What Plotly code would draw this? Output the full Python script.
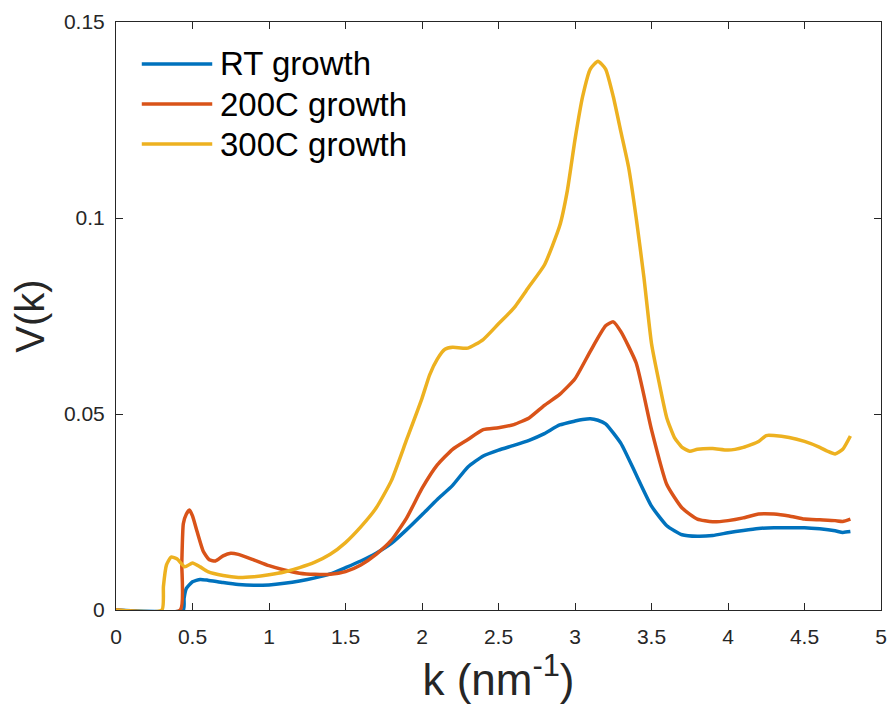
import plotly.graph_objects as go

# RT growth
k_rt = [0, 0.44, 0.445, 0.46, 0.5, 0.55, 0.6, 0.7, 0.8, 0.9, 1.0, 1.1, 1.2, 1.3, 1.4, 1.5, 1.6, 1.7, 1.8, 1.9,
        2.0, 2.1, 2.2, 2.3, 2.4, 2.5, 2.6, 2.7, 2.8, 2.9, 3.0, 3.05, 3.1, 3.15, 3.2, 3.3, 3.4, 3.5, 3.6, 3.7,
        3.8, 3.9, 4.0, 4.1, 4.2, 4.3, 4.4, 4.5, 4.6, 4.7, 4.75, 4.8]
v_rt = [0, 0, 0.003, 0.0055, 0.0072, 0.0078, 0.0076, 0.007, 0.0065, 0.0063, 0.0064, 0.0068, 0.0074, 0.0082,
        0.0092, 0.0108, 0.0125, 0.0145, 0.017, 0.0205, 0.0243, 0.0282, 0.0318, 0.0365, 0.0393, 0.0408, 0.042,
        0.0433, 0.045, 0.0472, 0.0482, 0.0486, 0.0488, 0.0484, 0.0475, 0.0425, 0.0345, 0.0265, 0.0215, 0.0192,
        0.0188, 0.019, 0.0197, 0.0203, 0.0208, 0.021, 0.021, 0.021, 0.0207, 0.0202, 0.0198, 0.02]

# 200C growth
k_200 = [0, 0.42, 0.43, 0.44, 0.46, 0.48, 0.5, 0.53, 0.57, 0.61, 0.65, 0.7, 0.75, 0.8, 0.9, 1.0, 1.1, 1.2, 1.3,
         1.4, 1.5, 1.6, 1.7, 1.8, 1.9, 2.0, 2.1, 2.2, 2.3, 2.4, 2.5, 2.6, 2.7, 2.8, 2.9, 3.0, 3.1, 3.2, 3.25,
         3.3, 3.4, 3.5, 3.6, 3.7, 3.8, 3.9, 4.0, 4.1, 4.2, 4.3, 4.4, 4.5, 4.6, 4.7, 4.75, 4.8]
v_200 = [0, 0, 0.012, 0.022, 0.0245, 0.0255, 0.024, 0.02, 0.015, 0.0128, 0.0125, 0.0138, 0.0145, 0.0142,
         0.0128, 0.0113, 0.0102, 0.0094, 0.0091, 0.0091, 0.0098, 0.0115, 0.0142, 0.0178, 0.0235, 0.031,
         0.037, 0.041, 0.0435, 0.046, 0.0465, 0.0473, 0.049, 0.0522, 0.055, 0.059, 0.066, 0.0725, 0.0735,
         0.071, 0.063, 0.046, 0.032, 0.026, 0.0232, 0.0225, 0.0228, 0.0235, 0.0245, 0.0245, 0.024, 0.0232,
         0.023, 0.0228, 0.0226, 0.0232]

# 300C growth
k_300 = [0, 0.3, 0.31, 0.33, 0.36, 0.4, 0.45, 0.5, 0.55, 0.6, 0.7, 0.8, 0.9, 1.0, 1.1, 1.2, 1.3, 1.4, 1.5, 1.6,
         1.7, 1.8, 1.9, 2.0, 2.05, 2.1, 2.15, 2.2, 2.3, 2.4, 2.5, 2.6, 2.7, 2.8, 2.9, 2.95, 3.0, 3.05, 3.1,
         3.15, 3.2, 3.25, 3.3, 3.35, 3.4, 3.45, 3.5, 3.55, 3.6, 3.65, 3.7, 3.75, 3.8, 3.9, 4.0, 4.1, 4.2,
         4.25, 4.3, 4.4, 4.5, 4.6, 4.65, 4.7, 4.75, 4.8]
v_300 = [0, 0, 0.006, 0.0115, 0.0135, 0.013, 0.011, 0.012, 0.011, 0.0098, 0.0088, 0.0083, 0.0085, 0.009,
         0.0097, 0.0108, 0.0122, 0.0142, 0.0172, 0.0212, 0.026, 0.033, 0.0435, 0.054, 0.06, 0.064, 0.0665,
         0.067, 0.0668, 0.069, 0.073, 0.077, 0.0825, 0.088, 0.098, 0.107, 0.12, 0.131, 0.138, 0.14, 0.138,
         0.131, 0.122, 0.113, 0.1, 0.085, 0.068, 0.058, 0.049, 0.044, 0.0415, 0.0405, 0.041, 0.0412, 0.0408,
         0.0415, 0.043, 0.0445, 0.0445, 0.044, 0.043, 0.0415, 0.0405, 0.0398, 0.041, 0.0444]

names = ["RT growth", "200C growth", "300C growth"]
colors = ["#0072BD", "#D95319", "#EDB120"]
series = [(k_rt, v_rt), (k_200, v_200), (k_300, v_300)]

x_ticks = [0, 0.5, 1, 1.5, 2, 2.5, 3, 3.5, 4, 4.5, 5]
x_ticklabels = ["0", "0.5", "1", "1.5", "2", "2.5", "3", "3.5", "4", "4.5", "5"]
y_ticks = [0, 0.05, 0.1, 0.15]
y_ticklabels = ["0", "0.05", "0.1", "0.15"]

FONT = "Liberation Sans, Arial, Helvetica, sans-serif"

fig = go.Figure()
for (kx, vy), nm, c in zip(series, names, colors):
    fig.add_trace(go.Scatter(x=kx, y=vy, mode="lines", name=nm,
                             line=dict(color=c, width=3.5, shape="spline", smoothing=0.5),
                             showlegend=False))

# legend drawn manually (MATLAB style, long line samples, no box)
leg_y = [0.9286, 0.8605, 0.7925]
for nm, c, yy in zip(names, colors, leg_y):
    fig.add_shape(type="line", xref="paper", yref="paper", x0=0.0337, x1=0.1258, y0=yy, y1=yy,
                  line=dict(color=c, width=3.5))
    fig.add_annotation(xref="paper", yref="paper", x=0.1335, y=yy, text=nm, showarrow=False,
                       xanchor="left", yanchor="middle", font=dict(family=FONT, size=33, color="#000000"))

axis_common = dict(showline=True, linecolor="#262626", linewidth=1, mirror="ticks", ticks="inside",
                   ticklen=7, tickcolor="#262626", tickwidth=1, showgrid=False, zeroline=False,
                   tickfont=dict(family=FONT, size=21, color="#262626"))

fig.update_xaxes(range=[0, 5], tickvals=x_ticks, ticktext=x_ticklabels, ticklabelstandoff=8,
                 title=dict(text="k (nm<sup>-1</sup>)", font=dict(family=FONT, size=44, color="#262626"),
                            standoff=14), **axis_common)
fig.update_yaxes(range=[0, 0.15], tickvals=y_ticks, ticktext=y_ticklabels, ticklabelstandoff=6,
                 title=dict(text="V(k)", font=dict(family=FONT, size=40, color="#262626"),
                            standoff=6), **axis_common)

fig.update_layout(width=893, height=712, margin=dict(l=116, r=6, t=22, b=102),
                  plot_bgcolor="white", paper_bgcolor="white", showlegend=False)

fig.write_html("out.html")
